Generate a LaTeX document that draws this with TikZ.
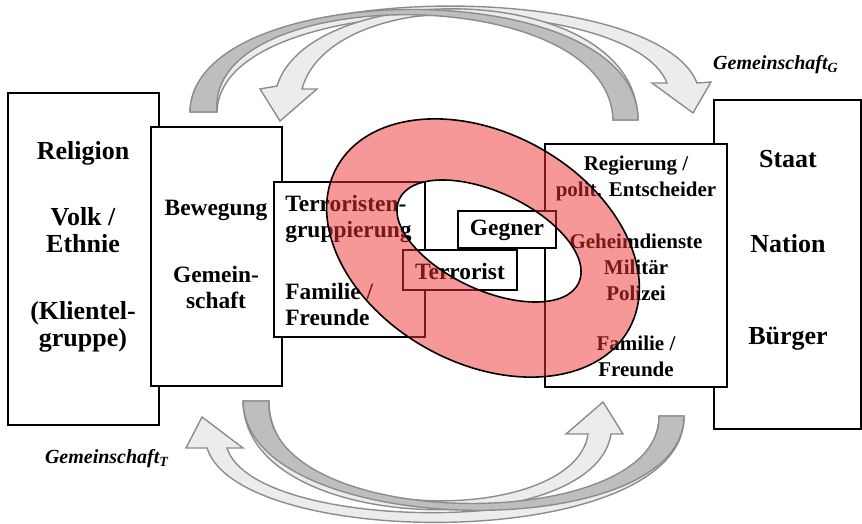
\documentclass[tikz,border=0pt]{standalone}
\usepackage{fontspec}
\setmainfont{Liberation Serif}

\definecolor{ringred}{RGB}{238,50,50}
\definecolor{banddark}{RGB}{190,190,190}
\definecolor{bandlight}{RGB}{236,236,236}
\definecolor{bandline}{RGB}{140,140,140}

\tikzset{
  box/.style={draw=black, line width=1pt, fill=white},
  bigtxt/.style={font=\fontsize{13}{13.5}\selectfont\bfseries, align=center, inner sep=0pt},
  midtxt/.style={font=\fontsize{11.7}{13}\selectfont\bfseries, inner sep=0pt},
  smalltxt/.style={font=\fontsize{10.5}{13}\selectfont\bfseries, align=center, inner sep=0pt},
  commtxt/.style={font=\fontsize{10}{12}\selectfont\bfseries\itshape, inner sep=0pt},
  backband/.style={fill=banddark, draw=bandline, line width=0.7pt},
  frontband/.style={fill=bandlight, draw=bandline, line width=0.7pt},
  ring/.style={fill=ringred, fill opacity=0.5, draw=black, line width=0.8pt, even odd rule}
}

\begin{document}
\begin{tikzpicture}[x=0.5pt, y=-0.5pt]

\useasboundingbox (0,0) rectangle (862,524);

% upper arrows
\draw[frontband] (190,112) .. controls (192,-24) and (655,-24) .. (697,83) -- (711,82) -- (693,113) -- (652,83) -- (667,83) .. controls (630,-12) and (220,-12) .. (217,112) -- cycle;
\draw[frontband] (638,120) .. controls (636,-22) and (310,-22) .. (277,86) -- (260,89) -- (280,121) -- (317,89) -- (302,89) .. controls (330,-16) and (615,-16) .. (613,120) -- cycle;
\draw[backband] (190,112) .. controls (192,-24) and (638,-28) .. (638,120) -- (613,120) .. controls (609,-20) and (205,-18) .. (217,112) -- cycle;

% lower arrows
\draw[frontband] (684,416) .. controls (686,552) and (240,552) .. (207,448) -- (186,448) -- (202,417) -- (243,448) -- (227,448) .. controls (255,538) and (660,540) .. (659,416) -- cycle;
\draw[frontband] (243,401) .. controls (245,540) and (595,540) .. (611,434) -- (623,434) -- (603,402) -- (566,434) -- (588,434) .. controls (575,528) and (268,528) .. (269,401) -- cycle;
\draw[backband] (243,401) .. controls (245,540) and (684,548) .. (684,416) -- (659,416) .. controls (661,536) and (262,534) .. (269,401) -- cycle;

% boxes
\filldraw[box] (714,100) rectangle (861,429);
\filldraw[box] (545,144) rectangle (727,387);
\filldraw[box] (8,93) rectangle (159,425);
\filldraw[box] (151,127) rectangle (282,386);
\filldraw[box] (274,182) rectangle (425,337);
\filldraw[box] (458,211) rectangle (556,248);
\filldraw[box] (403,250) rectangle (517,290);

\node[bigtxt] (religion) at (83,153) {Religion};
\node[bigtxt] (volk) at (83,230) {Volk /\\Ethnie};
\node[bigtxt] (klientel) at (83,327) {(Klientel-\\gruppe)};

\node[midtxt] (bewegung) at (216,210) {Bewegung};
\node[midtxt, align=center] (gemein) at (216,287) {Gemein-\\schaft};

\node[midtxt, align=left, anchor=west] (tgruppe) at (285,219) {Terroristen-\\gruppierung};
\node[midtxt, align=left, anchor=west] (tfamilie) at (285,305) {Familie /\\Freunde};

\node[midtxt] (gegner) at (507,230) {Gegner};
\node[midtxt] (terrorist) at (460,271) {Terrorist};

\node[smalltxt] (regierung) at (636,178) {Regierung /\\polit. Entscheider};
\node[smalltxt] (dienste) at (636,267) {Geheimdienste\\Militär\\Polizei};
\node[smalltxt] (gfamilie) at (636,356) {Familie /\\Freunde};

\node[bigtxt] (staat) at (788,159) {Staat};
\node[bigtxt] (nation) at (788,244) {Nation};
\node[bigtxt] (buerger) at (788,339) {Bürger};

\node[commtxt] (gemG) at (776,65) {Gemeinschaft\textsubscript{G}};
\node[commtxt] (gemT) at (107,459) {Gemeinschaft\textsubscript{T}};

% ring
\path[ring] {[shift={(483,248)}, rotate=-29] (0,0) ellipse [x radius=167, y radius=115]}
            {[shift={(489,241)}, rotate=-25] (0,0) ellipse [x radius=99, y radius=49]};

\end{tikzpicture}
\end{document}
